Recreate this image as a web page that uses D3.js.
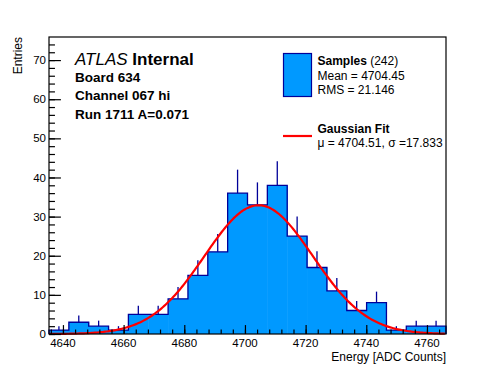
<!DOCTYPE html>
<html>
<head>
<meta charset="utf-8">
<script src="https://cdn.jsdelivr.net/npm/d3@7"></script>
<style>
   body { margin: 0; background: #fff; }
   svg { display: block; font-family: "Liberation Sans", Arial, Helvetica, sans-serif; }
</style>
</head>
<body>
<div id="chart"></div>
<script>
// Histogram of samples (counts per bin)
const binLow = 4635.4;
const binWidth = 6.544;
const counts = [1, 3, 2, 1, 5, 5, 9, 15, 21, 36, 33, 38, 25, 17, 11, 6, 8, 1, 2, 2];
const nSamples = 242;

// Gaussian fit parameters
const fitMean = 4704.51;
const fitSigma = 17.833;
const fitAmp = 32.9;

// Axes
const xTicks = [4640, 4660, 4680, 4700, 4720, 4740, 4760];
const yTicks = [0, 10, 20, 30, 40, 50, 60, 70];
const yMax = 75.9;

// Labels
const infoLines = ["Board 634", "Channel 067 hi", "Run 1711 A=0.071"];
const statLines = ["Mean = 4704.45", "RMS = 21.146"];

const width = 496, height = 372;
const margin = { top: 37, right: 50, bottom: 38, left: 49 };
const fillColor = "#0099ff";
const lineColor = "#000099";

const svg = d3.select("#chart").append("svg")
   .attr("width", width)
   .attr("height", height);

const binEdges = d3.range(counts.length + 1).map(i => binLow + i * binWidth);

const x = d3.scaleLinear()
   .domain([binEdges[0], binEdges[counts.length]])
   .range([margin.left, width - margin.right]);
const y = d3.scaleLinear()
   .domain([0, yMax])
   .range([height - margin.bottom, margin.top]);

const bins = counts.map((c, i) => ({ x0: binEdges[i], x1: binEdges[i + 1], c }));

// Filled bars
svg.append("g")
   .selectAll("rect")
   .data(bins)
   .join("rect")
   .attr("x", d => x(d.x0))
   .attr("width", d => x(d.x1) - x(d.x0) + 0.5)
   .attr("y", d => y(d.c))
   .attr("height", d => y(0) - y(d.c))
   .attr("fill", fillColor);

// Error bars (only the upper part shows above the fill)
svg.append("g")
   .attr("stroke", lineColor)
   .attr("stroke-width", 1.3)
   .selectAll("line")
   .data(bins)
   .join("line")
   .attr("x1", d => x((d.x0 + d.x1) / 2))
   .attr("x2", d => x((d.x0 + d.x1) / 2))
   .attr("y1", d => y(d.c))
   .attr("y2", d => y(d.c + Math.sqrt(d.c)));

// Step outline
const stepPts = [[binEdges[0], 0]];
bins.forEach(d => { stepPts.push([d.x0, d.c], [d.x1, d.c]); });
stepPts.push([binEdges[counts.length], 0]);
svg.append("path")
   .attr("d", d3.line().x(d => x(d[0])).y(d => y(d[1]))(stepPts))
   .attr("fill", "none")
   .attr("stroke", lineColor)
   .attr("stroke-width", 1.3);

// Gaussian fit curve
const gauss = v => fitAmp * Math.exp(-((v - fitMean) ** 2) / (2 * fitSigma * fitSigma));
const fitXs = d3.range(x.domain()[0], x.domain()[1], 0.5);
svg.append("path")
   .attr("d", d3.line().x(v => x(v)).y(v => y(gauss(v)))(fitXs))
   .attr("fill", "none")
   .attr("stroke", "#ff0000")
   .attr("stroke-width", 2.2);

// Frame
svg.append("rect")
   .attr("x", margin.left)
   .attr("y", margin.top)
   .attr("width", width - margin.left - margin.right)
   .attr("height", height - margin.top - margin.bottom)
   .attr("fill", "none")
   .attr("stroke", "#000")
   .attr("stroke-width", 1.2);

// Axes, ROOT style: ticks pointing into the frame
const plotW = width - margin.left - margin.right;
const plotH = height - margin.top - margin.bottom;

svg.append("g")
   .attr("transform", `translate(0,${height - margin.bottom})`)
   .call(d3.axisTop(x).tickValues(d3.range(4636, 4766, 4)).tickSize(plotH * 0.015).tickFormat(""))
   .call(g => g.append("g")
      .call(d3.axisTop(x).tickValues(xTicks).tickSize(plotH * 0.03).tickFormat("")))
   .call(g => g.selectAll(".domain").remove());

svg.append("g")
   .selectAll("text")
   .data(xTicks)
   .join("text")
   .attr("x", d => x(d))
   .attr("y", height - margin.bottom + 12.5)
   .attr("text-anchor", "middle")
   .attr("font-size", 11.5)
   .text(d => d);

svg.append("g")
   .attr("transform", `translate(${margin.left},0)`)
   .call(d3.axisRight(y).tickValues(d3.range(0, 76, 2)).tickSize(plotW * 0.015).tickFormat(""))
   .call(g => g.append("g")
      .call(d3.axisRight(y).tickValues(yTicks).tickSize(plotW * 0.03).tickFormat("")))
   .call(g => g.selectAll(".domain").remove());

svg.append("g")
   .selectAll("text")
   .data(yTicks)
   .join("text")
   .attr("x", margin.left - 3)
   .attr("y", d => y(d))
   .attr("dy", "0.36em")
   .attr("text-anchor", "end")
   .attr("font-size", 11.5)
   .text(d => d);

svg.selectAll(".tick line").attr("stroke", "#000").attr("stroke-width", 1.2);

// Axis titles
svg.append("text")
   .attr("x", width - margin.right)
   .attr("y", 360.5)
   .attr("text-anchor", "end")
   .attr("font-size", 12)
   .text("Energy [ADC Counts]");

svg.append("text")
   .attr("transform", `translate(22,${margin.top}) rotate(-90)`)
   .attr("text-anchor", "end")
   .attr("font-size", 12)
   .text("Entries");

// ATLAS label block
const atlas = svg.append("text")
   .attr("x", 75)
   .attr("y", 65)
   .attr("font-size", 17);
atlas.append("tspan").attr("font-style", "italic").text("ATLAS");
atlas.append("tspan").attr("font-weight", "bold").text(" Internal");

svg.append("g")
   .selectAll("text")
   .data(infoLines)
   .join("text")
   .attr("x", 75)
   .attr("y", (d, i) => 81.5 + i * 18.6)
   .attr("font-size", 13.5)
   .attr("font-weight", "bold")
   .text(d => d);

// Legend
const legend = svg.append("g");
legend.append("rect")
   .attr("x", 283.5).attr("y", 53.5)
   .attr("width", 28).attr("height", 43)
   .attr("fill", fillColor)
   .attr("stroke", lineColor)
   .attr("stroke-width", 1.2);

const samples = legend.append("text")
   .attr("x", 317.5).attr("y", 65)
   .attr("font-size", 12);
samples.append("tspan").attr("font-weight", "bold").text("Samples");
samples.append("tspan").text(` (${nSamples})`);

legend.selectAll("text.stat")
   .data(statLines)
   .join("text")
   .attr("class", "stat")
   .attr("x", 317.5)
   .attr("y", (d, i) => 80 + i * 13.5)
   .attr("font-size", 12)
   .text(d => d);

legend.append("line")
   .attr("x1", 283).attr("x2", 312)
   .attr("y1", 136).attr("y2", 136)
   .attr("stroke", "#ff0000")
   .attr("stroke-width", 2.2);

legend.append("text")
   .attr("x", 317.5).attr("y", 133)
   .attr("font-size", 12)
   .attr("font-weight", "bold")
   .text("Gaussian Fit");

legend.append("text")
   .attr("x", 317.5).attr("y", 146.5)
   .attr("font-size", 12)
   .text(`\u03bc = ${fitMean}, \u03c3 =${fitSigma}`);
</script>
</body>
</html>
